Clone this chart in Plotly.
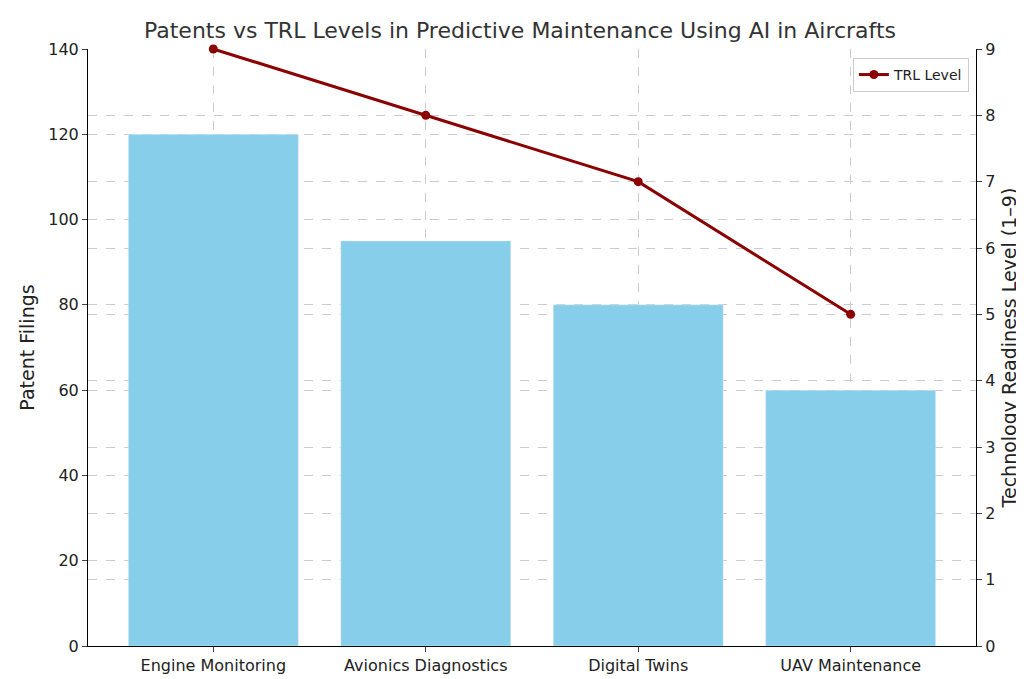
import plotly.graph_objects as go

categories = ["Engine Monitoring", "Avionics Diagnostics", "Digital Twins", "UAV Maintenance"]
patents = [120, 95, 80, 60]
trl = [9, 8, 7, 5]

fig = go.Figure()
fig.add_trace(go.Bar(x=categories, y=patents, name="Patent Filings", marker_color="#87CEEB",
                     width=0.8, legend="legend"))
fig.add_trace(go.Scatter(x=categories, y=trl, name="TRL Level", mode="lines+markers", yaxis="y2",
                         line=dict(color="#8B0000", width=3), marker=dict(size=9, color="#8B0000"),
                         legend="legend2", cliponaxis=False))

grid = dict(showgrid=True, gridcolor="#cccccc", griddash="dash", gridwidth=1)
fig.update_layout(
    width=1024, height=679, plot_bgcolor="white", paper_bgcolor="white",
    font=dict(family="DejaVu Sans", size=16, color="#222"),
    title=dict(text="Patents vs TRL Levels in Predictive Maintenance Using AI in Aircrafts",
               x=0.5, xanchor="center", y=0.967, yanchor="middle", font=dict(size=22, color="#333")),
    margin=dict(l=80, r=56, t=41, b=36),
    xaxis=dict(range=[-0.59, 3.59], showline=True, linecolor="black", ticks="outside", ticklen=5, **grid),
    yaxis=dict(title=dict(text="Patent Filings", standoff=8), range=[0, 140], dtick=20, showline=True,
               linecolor="black", ticks="outside", ticklen=5, mirror=False, **grid),
    yaxis2=dict(title=dict(text="Technology Readiness Level (1–9)", standoff=8), range=[0, 9], dtick=1,
                overlaying="y", side="right", showline=True, linecolor="black", ticks="outside", ticklen=5, **grid),
    legend=dict(x=0.008, y=0.985, xanchor="left", yanchor="top", bgcolor="rgba(255,255,255,0.8)",
                bordercolor="#ccc", borderwidth=1, font=dict(size=14)),
    legend2=dict(x=0.992, y=0.985, xanchor="right", yanchor="top", bgcolor="rgba(255,255,255,0.8)",
                 bordercolor="#ccc", borderwidth=1, font=dict(size=14)),
    bargap=0.2,
)
fig.write_html("out.html")
